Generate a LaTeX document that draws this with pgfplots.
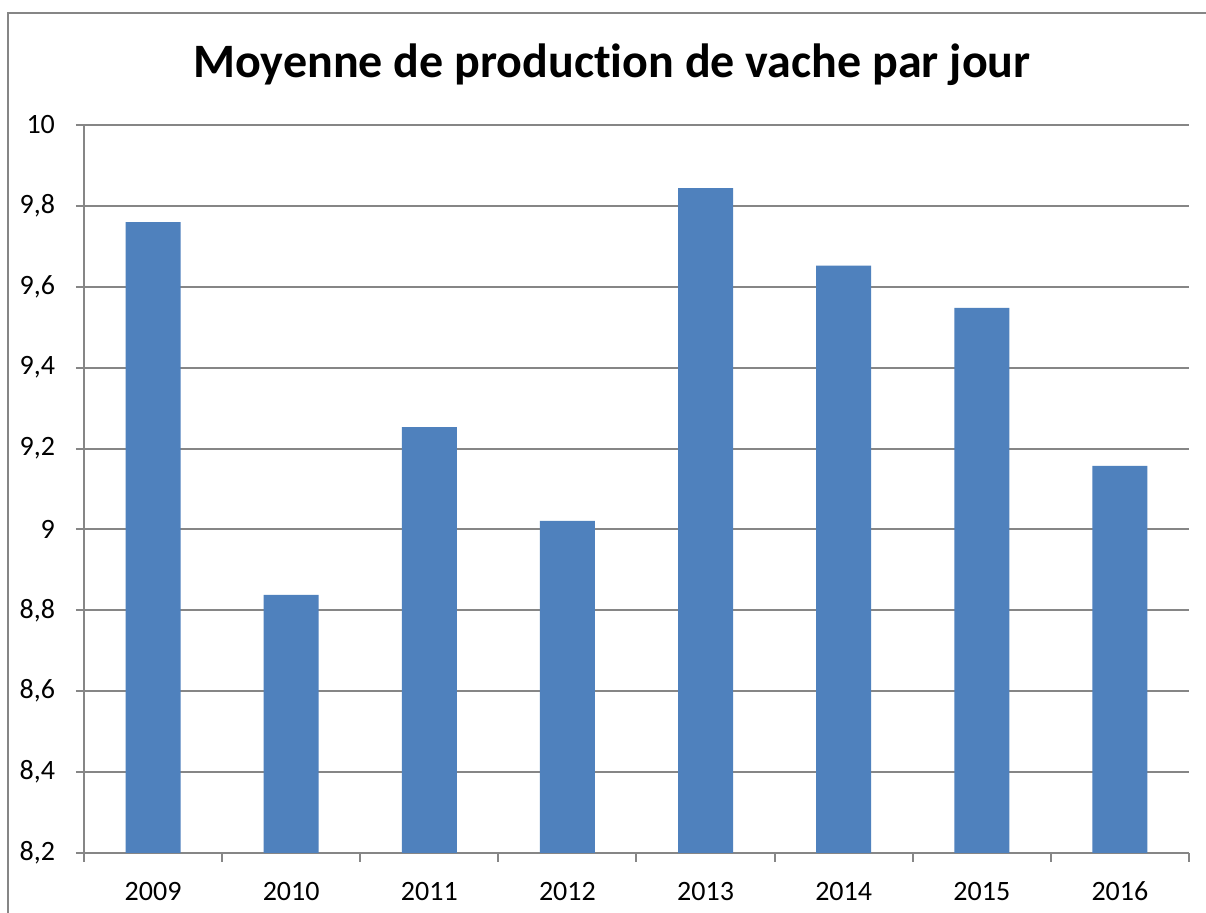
\documentclass[border=0pt]{standalone}
\usepackage{fontspec}
\setmainfont{Carlito}[Ligatures=NoCommon]
\usepackage{pgfplots}
\pgfplotsset{compat=1.18}
\definecolor{barblue}{HTML}{4F81BD}
\definecolor{axgray}{HTML}{868686}
\begin{document}
\begin{tikzpicture}
% page area (1px = 0.5pt, origin at lower left of plot area)
\useasboundingbox (-42pt,-30pt) rectangle (561pt,426.5pt);
\fill[white] (-42pt,-30pt) rectangle (561pt,426.5pt);
\draw[axgray, line width=1pt] (-38pt,-31pt) -- (-38pt,420pt) -- (562pt,420pt);
\node[font=\fontsize{24}{28}\selectfont\bfseries] at (264pt,394pt)
  {Moyenne de production de vache par jour};
\begin{axis}[
  at={(0pt,0pt)}, anchor=south west,
  scale only axis,
  width=552.5pt, height=364pt,
  xmin=-0.5, xmax=7.5,
  ymin=8.2, ymax=10,
  ytick={8.2,8.4,...,10.01},
  xtick={0,...,7},
  xticklabels={2009,2010,2011,2012,2013,2014,2015,2016},
  minor xtick={-0.5,0.5,...,7.5},
  axis x line=bottom, axis y line=left,
  axis line style={-, axgray, line width=1pt},
  every tick/.style={axgray, line width=1pt},
  tick align=outside,
  major tick length=4pt,
  minor tick length=4.5pt,
  major x tick style={draw=none},
  ymajorgrids,
  major grid style={axgray, line width=1pt},
  tick label style={font=\fontsize{14}{16}\selectfont},
  yticklabel style={xshift=-7pt},
  xticklabel style={yshift=-7pt},
  /pgf/number format/use comma,
  /pgf/number format/assume math mode=true,
  ybar, bar width=27.5pt,
  clip=false,
]
\addplot[fill=barblue, draw=none] coordinates {
  (0,9.760) (1,8.838) (2,9.253) (3,9.021)
  (4,9.844) (5,9.652) (6,9.548) (7,9.157)
};
\end{axis}
\end{tikzpicture}
\end{document}
